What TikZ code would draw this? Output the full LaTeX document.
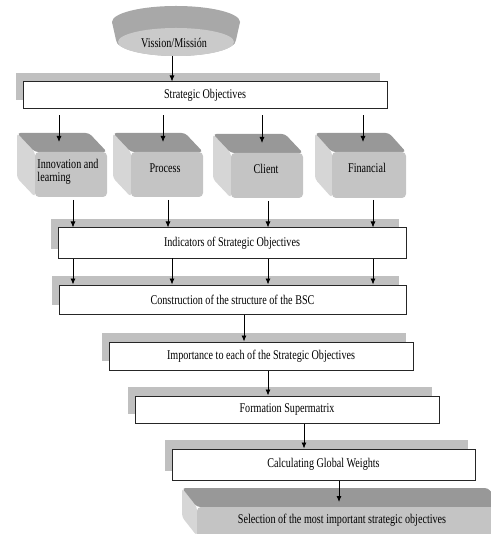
\documentclass[tikz,border=0pt]{standalone}
\usepackage{fontspec}
\setmainfont{Liberation Serif}[FakeStretch=0.76]
\usetikzlibrary{arrows.meta,shadows}

\begin{document}
\begin{tikzpicture}[x=0.75pt,y=0.75pt,yscale=-1,
  box/.style={draw={rgb, 255:red, 38; green, 38; blue, 38 }, line width=0.75pt, fill=white, inner sep=0pt,
    general shadow={fill={rgb, 255:red, 192; green, 192; blue, 192 }, shadow xshift=-5.25pt, shadow yshift=6.4pt}},
  arr/.style={line width=0.6pt, -{Latex[length=4.5pt,width=3.75pt]}},
  topface/.style={fill={rgb, 255:red, 152; green, 152; blue, 152 }, rounded corners=2.5pt},
  sideface/.style={fill={rgb, 255:red, 214; green, 214; blue, 214 }, rounded corners=2.5pt},
  frontface/.style={fill={rgb, 255:red, 196; green, 196; blue, 196 }, rounded corners=3pt}]
\useasboundingbox (0,0) rectangle (491,534);
\clip (0,0) rectangle (491,534);

%Disc
\fill [fill={rgb, 255:red, 168; green, 168; blue, 168 }] (176,22) ellipse [x radius=64, y radius=16];
\fill [fill={rgb, 255:red, 168; green, 168; blue, 168 }] (112,22) -- (240,22) -- (236,40) -- (116,40) -- cycle;
\fill [fill={rgb, 255:red, 168; green, 168; blue, 168 }] (176,40) ellipse [x radius=60, y radius=16];
\fill [fill={rgb, 255:red, 202; green, 202; blue, 202 }] (176,42) ellipse [x radius=58, y radius=14];
% Text Node
\node (mis) at (174,43) {Vission/Missión};
\coordinate (misb) at (172,56);

% Text Node
\node [box, minimum width=273pt, minimum height=20.25pt] (so) at (205,95.5) {Strategic Objectives};

%Block: Innovation and learning
\fill [sideface] (17,133) -- (35,152) -- (35,197) -- (17,178) -- cycle;
\fill [topface] (17,133) -- (89,133) -- (107,152) -- (35,152) -- cycle;
\fill [frontface] (35,152) rectangle (107,197);
%Block: Process
\fill [sideface] (113,133) -- (131,152) -- (131,197) -- (113,178) -- cycle;
\fill [topface] (113,133) -- (185,133) -- (203,152) -- (131,152) -- cycle;
\fill [frontface] (131,152) rectangle (203,197);
%Block: Client
\fill [sideface] (213,134) -- (231,153) -- (231,198) -- (213,179) -- cycle;
\fill [topface] (213,134) -- (285,134) -- (303,153) -- (231,153) -- cycle;
\fill [frontface] (231,153) rectangle (303,198);
%Block: Financial
\fill [sideface] (315,133) -- (332,152) -- (332,198) -- (315,179) -- cycle;
\fill [topface] (315,133) -- (389,133) -- (406,152) -- (332,152) -- cycle;
\fill [frontface] (332,152) rectangle (406,198);

% Text Node
\node [align=left, inner sep=0pt] (inno) at (68,171.5) {Innovation and\\[-2pt]learning};
% Text Node
\node (proc) at (165,168) {Process};
% Text Node
\node (cli) at (266,169) {Client};
% Text Node
\node (fin) at (367,167.5) {Financial};

\coordinate (top1) at (59,142);
\coordinate (top2) at (163,142);
\coordinate (top3) at (262,143);
\coordinate (top4) at (363,142);
\coordinate (bot1) at (73,200);
\coordinate (bot2) at (168,200);
\coordinate (bot3) at (268,201);
\coordinate (bot4) at (373,200);
\coordinate (mid2) at (172,258);
\coordinate (k1) at (244,0);
\coordinate (k2) at (268,0);
\coordinate (k3) at (304,0);

% Text Node
\node [box, minimum width=261pt, minimum height=22.5pt] (ind) at (232,243) {Indicators of Strategic Objectives};
% Text Node
\node [box, minimum width=260.25pt, minimum height=21.75pt] (bsc) at (232.5,299.5) {Construction of the structure of the BSC};
% Text Node
\node [box, minimum width=228pt, minimum height=21pt] (imp) at (261,356) {Importance to each of the Strategic Objectives};
% Text Node
\node [box, minimum width=228pt, minimum height=20.25pt] (sup) at (287,409.5) {Formation Supermatrix};
% Text Node
\node [box, minimum width=227.25pt, minimum height=23.25pt] (glob) at (323.5,464.5) {Calculating Global Weights};

%Slab: Selection
\fill [sideface] (182,488) -- (197,507) -- (197,536) -- (182,517) -- cycle;
\fill [topface] (182,488) -- (488,488) -- (503,507) -- (197,507) -- cycle;
\fill [frontface] (197,507) rectangle (510,540);
% Text Node
\node (sel) at (342,520) {Selection of the most important strategic objectives};
\coordinate (seltop) at (339,502);

%Connectors
\draw [arr] (misb) -- (misb |- so.north);
\draw [arr, shorten <=4.5pt] (so.south -| top1) -- (top1);
\draw [arr, shorten <=4.5pt] (so.south -| top2) -- (top2);
\draw [arr, shorten <=4.5pt] (so.south -| top3) -- (top3);
\draw [arr, shorten <=4.5pt] (so.south -| top4) -- (top4);
\draw [arr] (bot1) -- (bot1 |- ind.north);
\draw [arr] (bot2) -- (bot2 |- ind.north);
\draw [arr] (bot3) -- (bot3 |- ind.north);
\draw [arr] (bot4) -- (bot4 |- ind.north);
\draw [arr] (ind.south -| bot1) -- (bsc.north -| bot1);
\draw [arr] (mid2) -- (bsc.north -| mid2);
\draw [arr] (ind.south -| bot3) -- (bsc.north -| bot3);
\draw [arr] (ind.south -| bot4) -- (bsc.north -| bot4);
\draw [arr] (bsc.south -| k1) -- (imp.north -| k1);
\draw [arr] (imp.south -| k2) -- (sup.north -| k2);
\draw [arr] (sup.south -| k3) -- (glob.north -| k3);
\draw [arr] (glob.south -| seltop) -- (seltop);
\end{tikzpicture}
\end{document}
